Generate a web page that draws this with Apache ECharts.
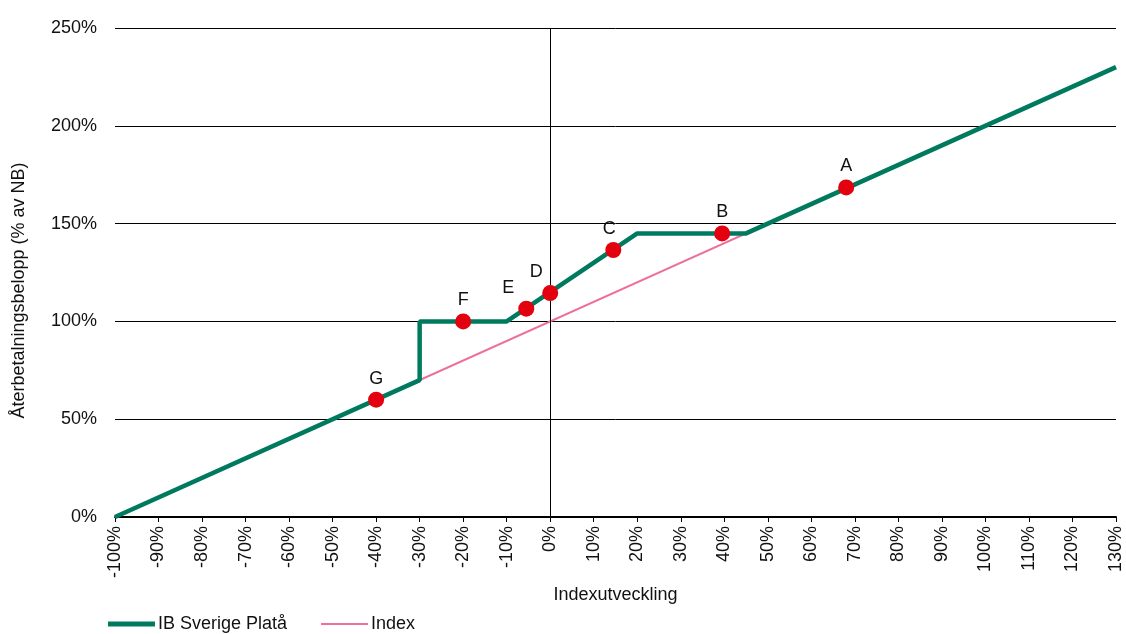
<!DOCTYPE html>
<html>
<head>
<meta charset="utf-8">
<script src="https://cdn.jsdelivr.net/npm/echarts@6/dist/echarts.min.js"></script>
<style>
html,body{margin:0;padding:0;background:#fff;}
#chart{width:1126px;height:634px;}
</style>
</head>
<body>
<div id="chart"></div>
<script>
// ---- data ----
var payoffX = [-100, -30, -30, -10, 20, 45, 130];
var payoffY = [0, 70, 100, 100, 145, 145, 230];
var indexX = [-100, 130];
var indexY = [0, 230];
var pointNames = ['A', 'B', 'C', 'D', 'E', 'F', 'G'];
var pointX = [68, 39.5, 14.5, 0, -5.5, -20, -40];
var pointY = [168.5, 145, 136.5, 114.5, 106.5, 100, 60];
var seriesNames = ['IB Sverige Platå', 'Index'];
var xAxisName = 'Indexutveckling';
var yAxisName = 'Återbetalningsbelopp (% av NB)';

// ---- styling ----
var FONT = '"Liberation Sans", Arial, Helvetica, sans-serif';
var FS = 18;
var GREEN = '#007a5e', PINK = '#ee6e9e', RED = '#e3000f';
var labelOffsets = {C: [-4, 0], D: [-14, 0], E: [-18, 0]};
var thinIcon = 'path://M0,0L0.01,0L0,0.01Z M0,1.5H47V3.5H0Z M46.99,4.99L47,5L46.99,5Z';

function zip(xs, ys) { return xs.map(function (x, i) { return [x, ys[i]]; }); }

var chart = echarts.init(document.getElementById('chart'));
chart.setOption({
  animation: false,
  textStyle: {fontFamily: FONT},
  grid: {left: 115, right: 10, top: 28, bottom: 117},
  legend: {
    data: [
      {name: seriesNames[0], icon: 'rect', itemStyle: {color: GREEN, opacity: 1}},
      {name: seriesNames[1], icon: thinIcon, itemStyle: {color: PINK, opacity: 1}}
    ],
    left: 108, top: 615, padding: 0,
    itemWidth: 47, itemHeight: 5, itemGap: 34,
    textStyle: {fontFamily: FONT, fontSize: FS, color: '#111', padding: [0, 0, 0, -2]}
  },
  xAxis: {
    type: 'value', min: -100, max: 130, interval: 10,
    name: xAxisName, nameLocation: 'middle', nameGap: 68,
    nameTextStyle: {fontFamily: FONT, fontSize: FS, color: '#111'},
    axisLine: {lineStyle: {color: '#000', width: 2}},
    axisTick: {show: true, length: 5, lineStyle: {color: '#000', width: 1}},
    axisLabel: {rotate: 90, fontSize: FS, color: '#111', fontFamily: FONT, margin: 9,
      formatter: function (v) { return v + '%'; }},
    splitLine: {show: false}
  },
  yAxis: {
    type: 'value', min: 0, max: 250, interval: 50,
    name: yAxisName, nameLocation: 'middle', nameGap: 87,
    nameTextStyle: {fontFamily: FONT, fontSize: FS, color: '#111', padding: [0, 36, 0, 0]},
    axisLine: {show: false}, axisTick: {show: false},
    axisLabel: {fontSize: FS, color: '#111', fontFamily: FONT, margin: 18,
      formatter: function (v) { return v + '%'; }},
    splitLine: {lineStyle: {color: '#000', width: 1}}
  },
  series: [
    {
      name: seriesNames[1], type: 'line', data: zip(indexX, indexY),
      symbol: 'none', z: 2,
      lineStyle: {color: PINK, width: 2}, itemStyle: {color: PINK},
      markLine: {
        silent: true, symbol: 'none', label: {show: false},
        lineStyle: {color: '#000', width: 1, type: 'solid'},
        data: [{xAxis: 0}]
      }
    },
    {
      name: seriesNames[0], type: 'line', data: zip(payoffX, payoffY),
      symbol: 'none', z: 3,
      lineStyle: {color: GREEN, width: 4.5}, itemStyle: {color: GREEN}
    },
    {
      name: 'points', type: 'scatter', z: 5,
      symbolSize: 16,
      itemStyle: {color: RED, opacity: 1},
      data: pointNames.map(function (n, i) {
        return {name: n, value: [pointX[i], pointY[i]],
          label: {offset: labelOffsets[n] || [0, 0]}};
      }),
      label: {show: true, position: 'top', distance: 4, fontSize: FS, color: '#111',
        fontFamily: FONT, formatter: function (p) { return p.name; }}
    }
  ]
});
</script>
</body>
</html>
